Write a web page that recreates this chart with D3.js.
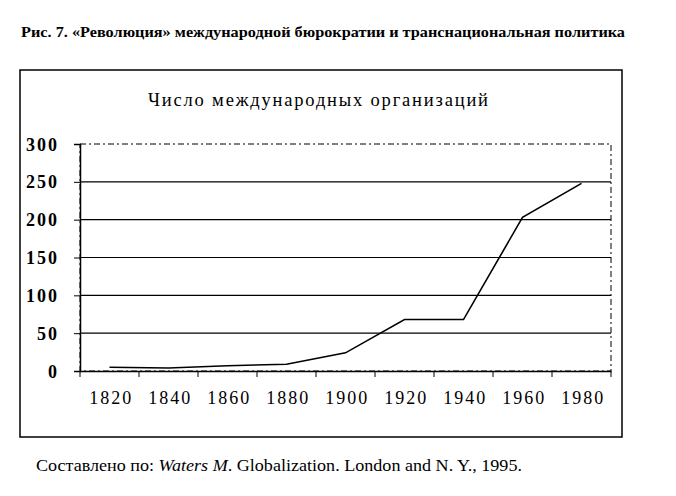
<!DOCTYPE html>
<html><head><meta charset="utf-8">
<script src="https://cdn.jsdelivr.net/npm/d3@7"></script>
<style>body{margin:0;background:#fff}svg{display:block}text{font-family:"Liberation Serif","Times New Roman",serif;fill:#000}</style>
</head><body>
<script>
const years = ["1820","1840","1860","1880","1900","1920","1940","1960","1980"];
const counts = [5, 4, 7, 9, 24, 68, 68, 203, 248];
const yTicks = [0, 50, 100, 150, 200, 250, 300];
const heading = "Рис. 7. «Революция» международной бюрократии и транснациональная политика";
const chartTitle = "Число международных организаций";
const sourcePrefix = "Составлено по: ";
const sourceAuthor = "Waters M";
const sourceRest = ". Globalization. London and N. Y., 1995.";

const W = 676, H = 496;
const SERIF = "Liberation Serif";
const svg = d3.select("body").append("svg").attr("width", W).attr("height", H);

svg.append("text").attr("x", 21).attr("y", 37).attr("font-family", SERIF)
  .attr("font-weight", "bold").attr("font-size", 15.5)
  .attr("textLength", 604).attr("lengthAdjust", "spacingAndGlyphs")
  .text(heading);

svg.append("rect").attr("x", 20).attr("y", 70).attr("width", 602).attr("height", 367)
  .attr("fill", "none").attr("stroke", "#000").attr("stroke-width", 1.5);

svg.append("text").attr("x", 318).attr("y", 106).attr("text-anchor", "middle")
  .attr("font-family", SERIF).attr("font-size", 18.5)
  .attr("textLength", 340).attr("lengthAdjust", "spacing").text(chartTitle);

const x = d3.scaleBand().domain(years).range([80, 611]);
const y = d3.scaleLinear().domain([0, 300]).range([371, 144]);

svg.append("rect").attr("x", 80).attr("y", y(300)).attr("width", 611 - 80).attr("height", y(0) - y(300))
  .attr("fill", "none").attr("stroke", "#000").attr("stroke-width", 1).attr("stroke-dasharray", "6,3,2,3");

svg.append("g").selectAll("line").data(yTicks.filter(d => d > 0 && d < 300)).join("line")
  .attr("x1", 80).attr("x2", 611).attr("y1", d => y(d)).attr("y2", d => y(d))
  .attr("stroke", "#000").attr("stroke-width", 1.2);

const yAxis = svg.append("g").attr("transform", "translate(80,0)")
  .call(d3.axisLeft(y).tickValues(yTicks).tickSize(6).tickPadding(15));
yAxis.select(".domain").attr("stroke-width", 1.5);
yAxis.selectAll("text").attr("font-size", 18).attr("letter-spacing", 2)
  .attr("font-family", SERIF).attr("font-weight", "bold").attr("dy", "0.34em");

const xAxis = svg.append("g").attr("transform", `translate(0,${y(0)})`)
  .call(d3.axisBottom(x).tickSize(0).tickPadding(20));
xAxis.select(".domain").attr("stroke-width", 1.5);
xAxis.selectAll("text").attr("font-size", 18).attr("letter-spacing", 2)
  .attr("font-family", SERIF).attr("dx", "0.1em");
const bounds = years.map(d => x(d)).concat([x(years[years.length - 1]) + x.bandwidth()]);
svg.append("g").selectAll("line").data(bounds).join("line")
  .attr("x1", d => d).attr("x2", d => d).attr("y1", y(0)).attr("y2", y(0) + 6)
  .attr("stroke", "#000").attr("stroke-width", 1);

const line = d3.line().x((d, i) => x(years[i]) + x.bandwidth() / 2).y(d => y(d));
svg.append("path").datum(counts).attr("d", line)
  .attr("fill", "none").attr("stroke", "#000").attr("stroke-width", 1.6);

const src = svg.append("text").attr("x", 36).attr("y", 471).attr("font-size", 17)
  .attr("font-family", SERIF).attr("textLength", 486).attr("lengthAdjust", "spacingAndGlyphs");
src.append("tspan").text(sourcePrefix);
src.append("tspan").attr("font-style", "italic").text(sourceAuthor);
src.append("tspan").text(sourceRest);
</script>
</body></html>
